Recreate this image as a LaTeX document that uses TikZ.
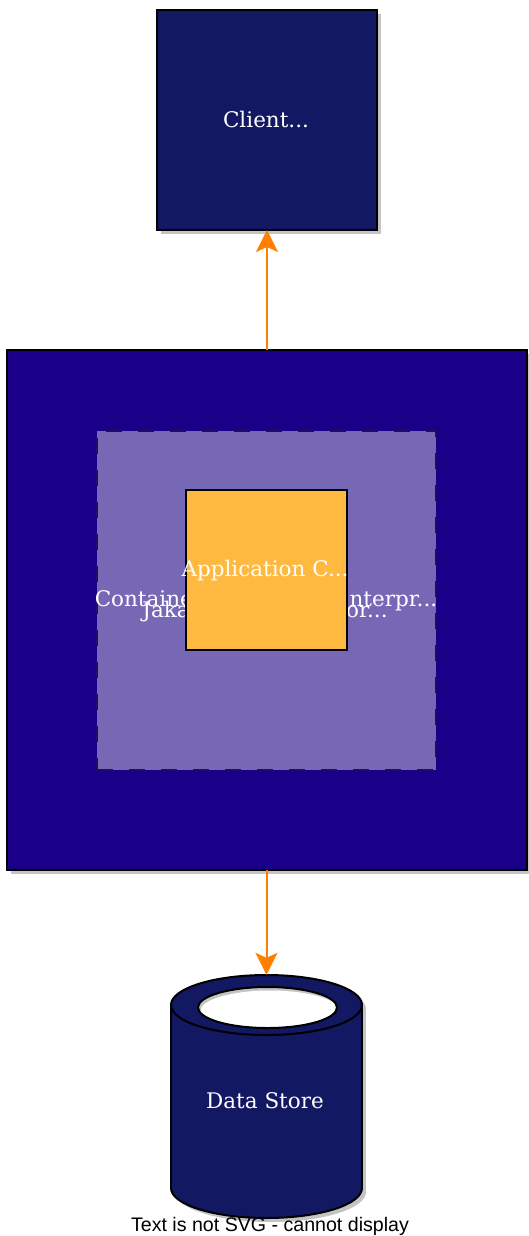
\documentclass[tikz,border=0pt]{standalone}
\usepackage{fontspec}
\setmainfont{DejaVu Serif}
\newfontfamily\arialfont{Liberation Sans}
\usetikzlibrary{arrows.meta,shadows}
\definecolor{navy}{HTML}{131862}
\definecolor{indigo}{HTML}{1A0089}
\definecolor{lav}{HTML}{7768B6}
\definecolor{dashc}{HTML}{1E0C66}
\definecolor{appc}{HTML}{FFB840}
\definecolor{arrc}{HTML}{FF8000}
\definecolor{shadc}{HTML}{C4C4C4}
\begin{document}
\begin{tikzpicture}[x=1pt,y=-1pt,
  box/.style={draw=black, line width=2pt, inner sep=0pt, outer sep=0pt},
  shad/.style={drop shadow={shadow xshift=4pt, shadow yshift=-4pt, fill=shadc, opacity=1}},
  lbl/.style={text=white, font=\fontsize{21.5}{25}\selectfont, inner sep=0pt, anchor=base},
  conn/.style={draw=arrc, line width=2pt, -{Stealth[length=22pt,width=22pt,inset=5pt,fill=arrc]}}
]
\useasboundingbox (0,0) rectangle (528,1236);
% client
\node[box, shad, fill=navy, minimum width=220pt, minimum height=220pt] (client) at (267,120) {};
\node[lbl] (clientlbl) at (266,128) {Client...};
% outer container
\node[box, shad, fill=indigo, minimum width=520pt, minimum height=520pt] (outer) at (267,610) {};
% dashed container
\node[fill=lav, draw=dashc, line width=2pt, dash pattern=on 16pt off 16pt, inner sep=0pt, minimum width=339pt, minimum height=339pt] (inner) at (266.5,600.5) {};
\node[lbl] (innerlbl) at (266,606) {Container for Jakarta Enterpr...};
\node[lbl] (outerlbl) at (265,617) {Jakarta EE Server or...};
% application
\node[box, fill=appc, minimum width=161pt, minimum height=160pt] (app) at (266.5,570) {};
\node[lbl] (applbl) at (265,576) {Application C...};
% data store cylinder
\begin{scope}[shift={(4,4)}]
  \fill[shadc] (171,1005) rectangle (362,1188);
  \fill[shadc] (266.5,1188) ellipse [x radius=95.5, y radius=30];
  \fill[shadc] (266.5,1005) ellipse [x radius=95.5, y radius=30];
\end{scope}
\fill[navy] (171,1005) rectangle (362,1188);
\fill[navy] (266.5,1188) ellipse [x radius=95.5, y radius=30];
\fill[navy] (266.5,1005) ellipse [x radius=95.5, y radius=30];
\draw[line width=2pt] (171,1005) -- (171,1188);
\draw[line width=2pt] (362,1005) -- (362,1188);
\begin{scope}
  \clip (150,1188) rectangle (380,1236);
  \draw[line width=2pt] (266.5,1188) ellipse [x radius=95.5, y radius=30];
\end{scope}
\draw[line width=2pt] (266.5,1005) ellipse [x radius=95.5, y radius=30];
\fill[shadc] (267.5,1007.5) ellipse [x radius=69.5, y radius=20.5];
\begin{scope}
  \clip (267.5,1007.5) ellipse [x radius=69.5, y radius=20.5];
  \fill[white] (270,1011) ellipse [x radius=69.5, y radius=20.5];
\end{scope}
\draw[line width=2pt] (267.5,1007.5) ellipse [x radius=69.5, y radius=20.5];
\node[inner sep=0pt, minimum width=191pt, minimum height=243pt] (ds) at (266.5,1096.5) {};
\node[lbl] (dslbl) at (265,1108) {Data Store};
% connectors
\draw[conn] (outer.north) -- (client.south);
\draw[conn] (outer.south -| ds.north) -- (ds.north);
% footer
\node[font=\arialfont\fontsize{19.6}{22}\selectfont, inner sep=0pt, anchor=base] (warn) at (270,1231) {Text is not SVG - cannot display};
\end{tikzpicture}
\end{document}
